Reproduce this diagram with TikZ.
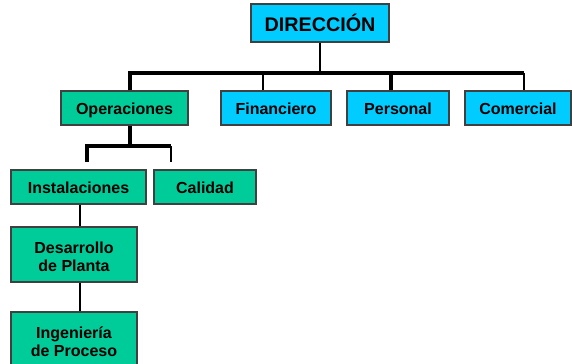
\documentclass[tikz,border=0pt]{standalone}
\usepackage{fontspec}
\setmainfont{Liberation Sans}
\definecolor{azul}{HTML}{00CCFF}
\definecolor{verde}{HTML}{00CC99}
\definecolor{borde}{HTML}{404040}
\newcommand{\alto}{\rule{0pt}{12.4pt}}
\tikzset{
	caja/.style={draw=borde, line width=.8pt, inner sep=0pt, minimum height=25.5pt,
		align=center, font=\bfseries\fontsize{12}{13.7}\selectfont},
	una/.style={text height=12.8pt, text depth=2.6pt},
	dos/.style={minimum height=41.25pt},
	cajaazul/.style={caja, una, fill=azul},
	cajaverde/.style={caja, fill=verde},
	grueso/.style={line width=2.6pt},
	fino/.style={line width=.8pt},
	medio/.style={line width=1.6pt},
}
\begin{document}
\begin{tikzpicture}[x=.75pt,y=-.75pt]
		\useasboundingbox (0,0) rectangle (572,364);
		% cajas
		\node [cajaazul, minimum width=103.5pt, minimum height=28.5pt, text height=15.4pt,
			font=\bfseries\fontsize{14.8}{16}\selectfont] (dir) at (320,23) {DIRECCIÓN};
		\node [cajaverde, una, minimum width=95.25pt] (ope) at (124.5,108) {Operaciones};
		\node [cajaazul, minimum width=82.5pt] (fin) at (276,108) {Financiero};
		\node [cajaazul, minimum width=76.5pt] (per) at (398,108) {Personal};
		\node [cajaazul, minimum width=79.5pt] (com) at (518,108) {Comercial};
		\node [cajaverde, una, minimum width=101.25pt] (ins) at (78.5,187) {Instalaciones};
		\node [cajaverde, una, minimum width=76.5pt] (cal) at (205,187) {Calidad};
		\node [cajaverde, dos, minimum width=94.5pt] (des) at (74,254.5) {\alto Desarrollo\\de Planta};
		\node [cajaverde, dos, minimum width=94.5pt] (ing) at (74,339.5) {\alto Ingeniería\\de Proceso};
		% lineas
		\coordinate (bus1) at (130,73);
		\coordinate (bus2) at (524,73);
		\coordinate (jfin) at (263,73);
		\coordinate (jper) at (391,73);
		\draw [fino]   (dir.south) -- (dir.south |- bus1);
		\draw [grueso] (bus1 |- ope.north) -- (bus1) -- (bus2);
		\draw [fino]   (bus2) -- (bus2 |- com.north);
		\draw [fino]   (jfin) -- (jfin |- fin.north);
		\draw [grueso] (jper) -- (jper |- per.north);
		\coordinate (sub) at (130,146);
		\coordinate (subL) at (87,146);
		\coordinate (subR) at (171,146);
		\draw [grueso] (sub |- ope.south) -- (sub);
		\draw [grueso] (87,162) -- (subL) -- (subR);
		\draw [fino]   (subR) -- (171,162);
		\coordinate (v) at (80,0);
		\draw [medio]  (v |- ins.south) -- (v |- des.north);
		\draw [medio]  (v |- des.south) -- (v |- ing.north);
	\end{tikzpicture}
\end{document}
